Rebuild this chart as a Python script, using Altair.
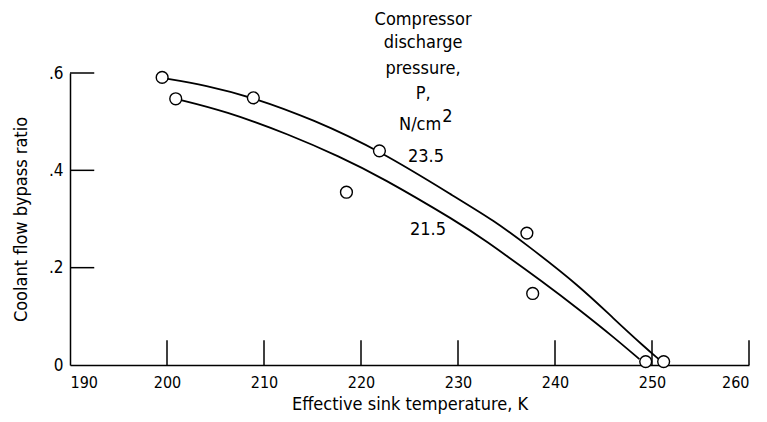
import altair as alt
import pandas as pd

FONT = "DejaVu Sans Condensed, DejaVu Sans"

# measured points (open circles)
pt_x = [199.5, 200.9, 208.9, 221.9, 218.5, 237.1, 237.7, 249.35, 251.2]
pt_y = [0.591, 0.547, 0.549, 0.440, 0.355, 0.271, 0.147, 0.007, 0.007]

# faired curves
c235_x = [199.5, 204.0, 209.0, 215.0, 222.0, 230.2, 233.6, 237.1, 242.6, 246.0, 249.4, 250.7]
c235_y = [0.590, 0.575, 0.549, 0.505, 0.440, 0.339, 0.298, 0.247, 0.161, 0.096, 0.034, 0.012]
c215_x = [200.9, 206.0, 212.7, 217.8, 222.0, 230.2, 232.3, 239.1, 242.6, 246.0, 248.7]
c215_y = [0.547, 0.522, 0.473, 0.428, 0.387, 0.291, 0.263, 0.166, 0.112, 0.058, 0.012]

# tick values
x_ticks = [190, 200, 210, 220, 230, 240, 250, 260]
y_ticks = [0, 0.2, 0.4, 0.6]

# annotation text
legend_lines = ["Compressor", "discharge", "pressure,", "P,", "N/cm", "2"]
legend_x = [226.4, 226.4, 226.4, 226.4, 226.1, 228.9]
legend_y = [0.709, 0.662, 0.608, 0.557, 0.493, 0.509]
curve_labels = ["23.5", "21.5"]
curve_label_x = [226.7, 226.9]
curve_label_y = [0.427, 0.277]

xs = alt.Scale(domain=[190, 260], nice=False, zero=False)
ys = alt.Scale(domain=[0, 0.6], nice=False, zero=False)

curves = pd.DataFrame(
    [{"x": a, "y": b, "s": "23.5"} for a, b in zip(c235_x, c235_y)]
    + [{"x": a, "y": b, "s": "21.5"} for a, b in zip(c215_x, c215_y)]
)
pts = pd.DataFrame({"x": pt_x, "y": pt_y})
xt = pd.DataFrame({"x": x_ticks[1:], "y": [0] * 7, "y2": [0.051] * 7})
yt = pd.DataFrame({"y": y_ticks[1:], "x": [190] * 3, "x2": [192.5] * 3})
leg = pd.DataFrame({"t": legend_lines, "x": legend_x, "y": legend_y})
cl = pd.DataFrame({"t": curve_labels, "x": curve_label_x, "y": curve_label_y})

xaxis = alt.Axis(values=x_ticks, ticks=False, grid=False, domainColor="black",
                 domainWidth=1.5, labelFont=FONT, labelFontSize=16,
                 labelColor="black", labelPadding=9,
                 title="Effective sink temperature,  K", titleFont=FONT,
                 titleFontSize=18, titleFontWeight="normal", titleColor="black",
                 titlePadding=5)
yaxis = alt.Axis(values=y_ticks, ticks=False, grid=False, domainColor="black",
                 domainWidth=1.5, labelFont=FONT, labelFontSize=17,
                 labelColor="black", labelPadding=7,
                 labelExpr="datum.value == 0 ? '0' : replace(format(datum.value, '.1f'), '0.', '.')",
                 title="Coolant flow bypass ratio", titleFont=FONT,
                 titleFontSize=18, titleFontWeight="normal", titleColor="black",
                 titlePadding=18)

base_x = alt.X("x:Q", scale=xs, axis=xaxis)
base_y = alt.Y("y:Q", scale=ys, axis=yaxis)

lines = alt.Chart(curves).mark_line(color="black", strokeWidth=1.8,
                                    interpolate="basis").encode(
    x=base_x, y=base_y, detail="s:N")

circles = alt.Chart(pts).mark_point(shape="circle", size=140, filled=False,
                                    color="black", fill="white", fillOpacity=1,
                                    strokeWidth=1.4, opacity=1).encode(
    x=alt.X("x:Q", scale=xs), y=alt.Y("y:Q", scale=ys))

xtick = alt.Chart(xt).mark_rule(color="black", strokeWidth=1.5).encode(
    x=alt.X("x:Q", scale=xs), y=alt.Y("y:Q", scale=ys), y2="y2:Q")
ytick = alt.Chart(yt).mark_rule(color="black", strokeWidth=1.5).encode(
    y=alt.Y("y:Q", scale=ys), x=alt.X("x:Q", scale=xs), x2="x2:Q")

legtext = alt.Chart(leg).mark_text(font=FONT, fontSize=18, color="black",
                                   align="center", baseline="middle").encode(
    x=alt.X("x:Q", scale=xs), y=alt.Y("y:Q", scale=ys), text="t:N")
cltext = alt.Chart(cl).mark_text(font=FONT, fontSize=18, color="black",
                                 align="center", baseline="middle").encode(
    x=alt.X("x:Q", scale=xs), y=alt.Y("y:Q", scale=ys), text="t:N")

chart = alt.layer(lines, xtick, ytick, circles, legtext, cltext).properties(
    width=679, height=292,
    autosize=alt.AutoSizeParams(type="none"),
    padding={"left": 62, "top": 65, "right": 10, "bottom": 49},
    background="white",
).configure_view(stroke=None)

chart.save("out.html", embed_options={"renderer": "svg", "actions": False})
